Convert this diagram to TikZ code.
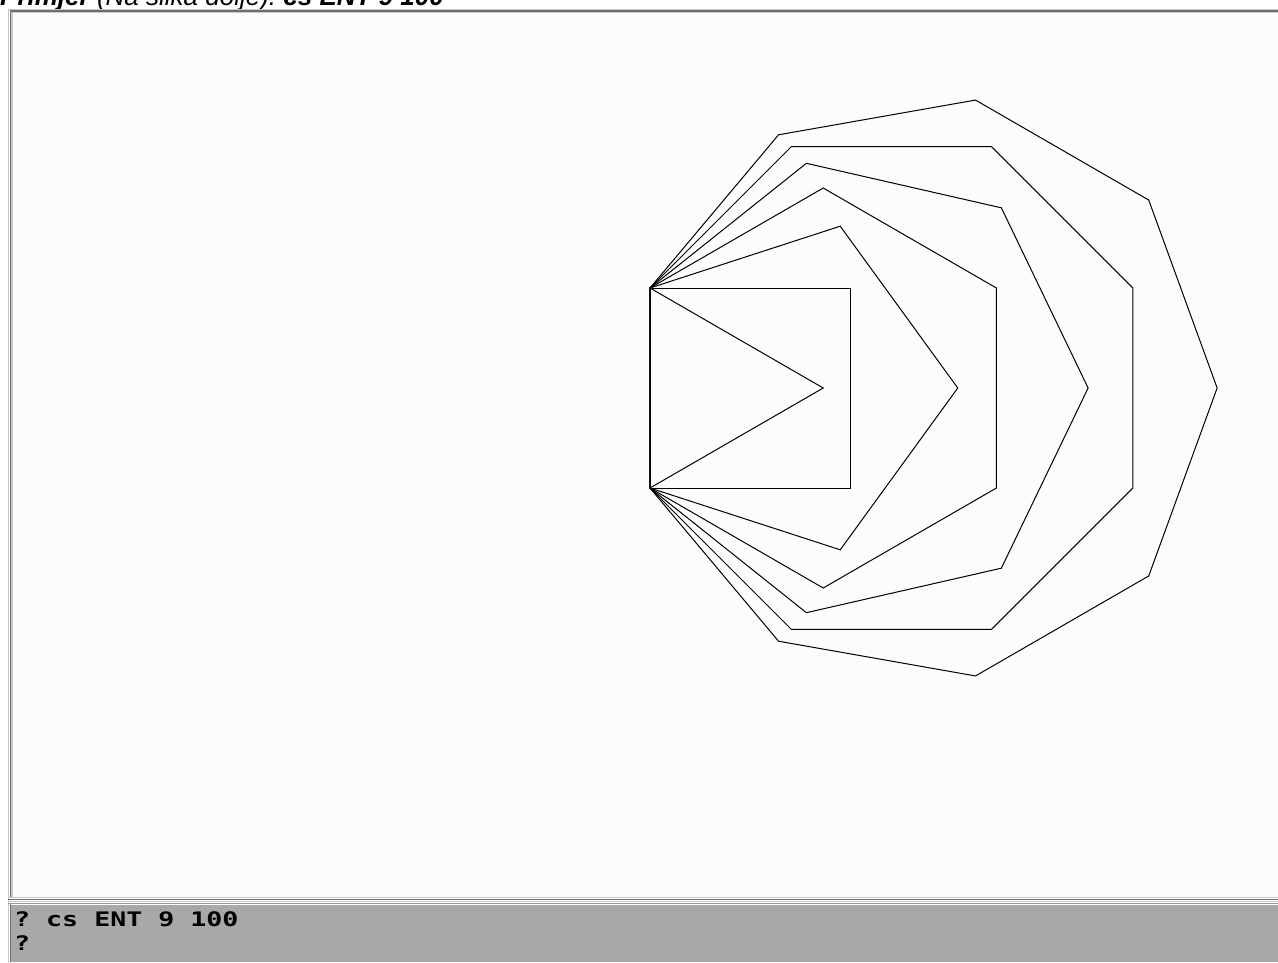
\documentclass[tikz,border=0pt]{standalone}
\usepackage{fontspec}
\setmainfont{Liberation Sans}
\newfontfamily\consolefont[FakeStretch=1.33]{DejaVu Sans Mono}
\usetikzlibrary{positioning}
\definecolor{panel}{HTML}{FCFCFC}
\definecolor{console}{HTML}{A8A8A8}
\definecolor{bk70}{HTML}{6E6E6E}
\definecolor{bk50}{HTML}{9A9A9A}
\definecolor{bk30}{HTML}{C8C8C8}
\frenchspacing
\tikzset{
  polyline/.style={draw=black, line width=1pt, line join=miter},
  rim/.style={draw=#1, line width=1.3pt},
  rim/.default=bk70,
  consoletext/.style={font=\consolefont\bfseries\fontsize{20}{24}\selectfont,
    anchor=base west, inner sep=0pt},
  captiontext/.style={font=\fontsize{26}{30}\selectfont\itshape,
    anchor=base west, inner sep=0pt},
}

\begin{document}
\begin{tikzpicture}[x=1pt, y=-1pt]

\useasboundingbox[fill=white] (0,0) rectangle (1278,962);

% caption above the window (cut off by the page edge)
\begin{scope}
  \clip (0,0) rectangle (1278,962);
  \node[captiontext] (caption) at (0,5.5)
    {{\bfseries Primjer} (Na slika dolje): {\bfseries cs ENT 9 100}};
\end{scope}

% drawing window
\fill[panel] (10,11) rectangle (1278,897);

% common edge of all polygons
\coordinate (base) at (650,488);
\coordinate (top) at (650,288);

% regular polygons with 3 to 9 sides on the same edge
\foreach \n in {3,...,9} {
  \pgfmathtruncatemacro{\m}{\n-1}
  \draw[polyline] (base)
    \foreach \k in {1,...,\m} { -- ++({-90+(\k-1)*360/\n}:200) } -- cycle;
}

% window frame
\draw[rim=bk30] (8.5,962) -- (8.5,9.5) -- (1278,9.5);
\draw[rim] (10.5,897) -- (10.5,11) -- (1278,11);
\draw[rim=bk30] (12,897) -- (12,12.5) -- (1278,12.5);

% separator between window and console
\draw[rim=bk30] (8,897.5) -- (1278,897.5);
\draw[rim] (8,899.5) -- (1278,899.5);
\draw[rim=bk30] (8,901.5) -- (1278,901.5);
\draw[rim=bk50] (8,903.5) -- (1278,903.5);

% console
\fill[console] (10,904.5) rectangle (1278,962);
\draw[rim] (10.5,904) -- (10.5,962);

\node[consoletext] (cmd) at (14,926) {? cs ENT 9 100};
\node[consoletext] (prompt) at (14,950) {?};

\end{tikzpicture}
\end{document}
